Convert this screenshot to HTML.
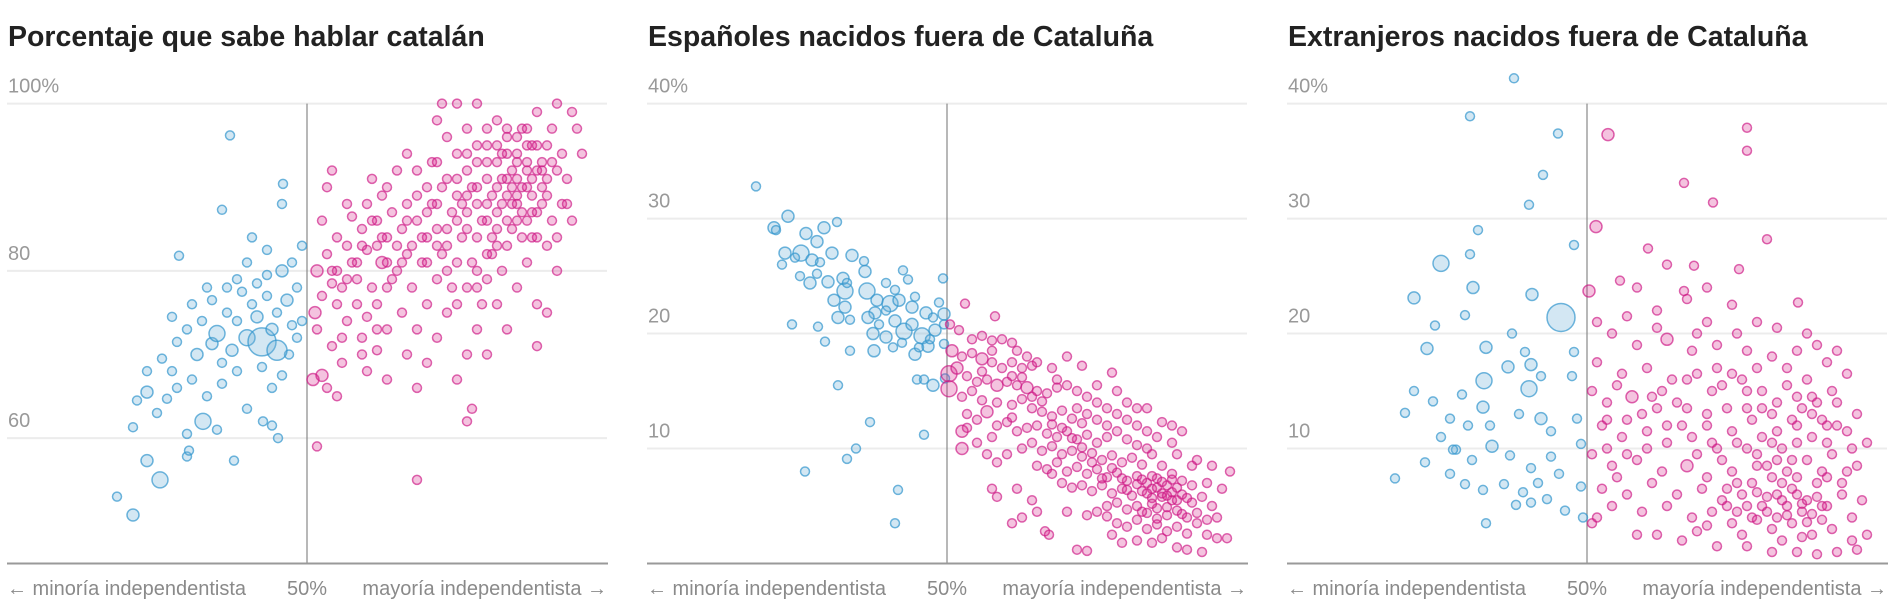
<!DOCTYPE html>
<html><head><meta charset="utf-8">
<style>
html,body{margin:0;padding:0;background:#fff;}
body{width:1902px;height:606px;overflow:hidden;font-family:"Liberation Sans",sans-serif;}
svg{display:block;}
.title{font-family:"Liberation Sans",sans-serif;font-weight:bold;font-size:28.5px;fill:#222;}
.tick{font-family:"Liberation Sans",sans-serif;font-size:20px;fill:#999;}
.axl{font-family:"Liberation Sans",sans-serif;font-size:20px;fill:#8a8a8a;}
</style></head>
<body>
<svg id="chart" width="1902" height="606" viewBox="0 0 1902 606" xmlns="http://www.w3.org/2000/svg"></svg>
<script>
// Data: [vote % independentist, value %, population size class]
const cat_ticks = ["100%","80","60"];
const cat_tickValues = [100,80,60];
const cat_points = [
[31,53],[32.6,50.8,2],[35.3,55,3],[34,57.3,2],[38,57.8],[38.2,58.5],[42.7,57.3],[47.1,60],[32.6,61.3],[39.6,62,3],[45.6,62],[44,63.5],[35,63],[33,64.5],[34,65.5,2],[36,64.7],[37,66],[36.5,68],[38.5,67],[40,65],[41.5,66.5],[34,68],[35.5,69.5],[37,71.5],[39,70,2],[40.5,71.3,2],[41,72.5,3],[42.5,70.5,2],[43,74],[44,72,3],[45.5,71.5,5],[46.5,73,2],[47,75],[44.5,76],[43.5,77.5],[42,78],[40.5,76.5],[39.5,74],[38,73],[36.5,74.5],[45,78.5],[46,79.5],[47.5,80,2],[48.5,81],[49,78],[48,76.5,2],[49.5,74],[49,72],[48.2,70],[47.5,67.5],[45.5,68.5],[43,68],[41.5,69],[38,60.5],[41,61],[46.5,61.5],[46.5,66],[44,81],[46,82.5],[37.2,81.8],[41.5,87.3],[47.6,90.4],[47.5,88],[42.3,96.2],[49.5,83],[44.5,84],[43,79],[40,78],[38.5,76],[47,70.5,4],[45,74.5,2],[42,75],[48.5,73.5],[46,77],
[51,59],[50.6,67,2],[51.5,67.5,2],[52,66],[53,65],[53.5,69],[52.5,71],[51,73],[50.8,75,2],[51.5,77],[52.5,78.5],[51,80,2],[52,82],[53,80],[54,83],[55,79],[56,82.5],[55.5,85],[54.5,86.5],[53,84],[51.5,86],[52,90],[52.5,92],[54,88],[56,88],[57,86],[58,84],[57.5,81,2],[56.5,78],[55,76],[54,74],[53.5,72],[55.5,72],[56,74.5],[57,76],[58,78],[59,80],[60,82],[59.5,85],[58.5,87],[60,88],[61,86],[62,84],[61.5,81],[60.5,78],[59.5,75],[58,73],[57,70.5],[56,68],[58,67],[60,70],[61,73],[62,76],[63,79],[63.5,82],[64,85],[63,88],[62,90],[61,92],[60,94],[62.5,93],[64,91],[65,89],[66,87],[65.5,84],[65,81],[64.5,78],[64,75],[63,72],[62,69],[61,66],[66,62],[66.5,63.5],[61,55],[65,67],[66,70],[67,73],[67.5,76],[68,79],[68.5,82],[69,85],[68,88],[67,90],[66,92],[65,94],[64,96],[63,98],[63.5,100],[65,100],[67,100],[66,97],[68,95],[69,93],[70,91],[70.5,88],[71,86],[70,83],[69.5,80],[71,78],[72,81],[72.5,84],[73,87],[72,90],[71,93],[70,96],[69,98],[71.5,97],[72.5,95],[73.5,92],[74,89],[74.5,86],[74,83],[75,80],[73,76],[75.5,88],[76,91],[75.5,94],[74.5,97],[73,99],[75,100],[76.5,99],[77,97],[77.5,94],[76.5,86],[74,75],[73,71],[70,73],[69,76],[68,70],[58,90],[59,92],[56.5,91],[57.5,89],[67,84],[66.5,81],[67,78],[69,87],[70,89],[71,91],[72,93],[73,95],[68,91],[67,93],[66,89],[65,86],[64,83],[63,85],[62,87],[61,89],[71.5,84],[72.5,87],[73.5,90],[74.5,93],[70,86],[69,83],[68,86],[67,88],[71,89],[72,92],[70,94],[71,96],[69,90],[68,93],[73,84],[75,84],[76,88],[74,95],[72,97],[66,85],[65,91],[63,93],[60,86],[59,83],[58,81],[57,83],[55,81],[54,79],[53,76],[55.5,70],[57,73],[70.5,92],[71.5,90],[72.5,89],[69.5,91],[70.5,85],[73.5,88],[68.5,89],[69.5,94],[72,86],[71,88],
[67.5,86],[68.5,84],[69.5,88],[70.5,90],[71.5,87],[72.5,91],[73.5,93],[66.5,90],[65.5,88],[64.5,87],[63.5,90],[62.5,88],[61.5,84],[60.5,83],[59.5,81],[58.5,79],[57.5,84],[56.5,86],[55.5,83],[54.5,81],[53.5,78],[52.5,80],[69,95],[70,97],[68,97],[67,95],[66,94],[71,94],[72,95],[73,92],[74,91],[75,92],[68,82],[67,80],[66,78],[65,76],[64,80],[63,83],[62,81]
];
const esp_ticks = ["40%","30","20","10"];
const esp_tickValues = [40,30,20,10];
const esp_points = [
[30.9,32.8],[34.1,30.2,2],[32.7,29.2,2],[32.9,29],[35.9,28.7,2],[37.7,29.2,2],[39,29.7],[37,28,2],[33.8,27,2],[35.4,27,3],[33.5,26],[34.8,26.6],[36.5,26.4,2],[37.3,26.2],[38.5,27,2],[40.5,26.8,2],[41.7,26.3],[41.8,25.4,2],[35.3,25],[36.3,24.4,2],[37,25.2],[38.1,24.5,2],[39.6,24.8,2],[39.8,23.7,3],[42,23.7,3],[40,24.4],[38.7,22.9,2],[39.8,22.3,2],[39.1,21.4,2],[40.3,21.2],[34.5,20.8],[37.1,20.6],[37.8,19.3],[40.3,18.5],[39.1,15.5],[42.3,12.3],[40.9,10],[40,9.1],[35.8,8],[45.1,6.4],[44.8,3.5],[47.7,11.2],[45.6,25.5],[46.1,24.7],[43.9,24.4],[44.8,23.8],[43,22.9,2],[44.3,22.6,3],[45.2,22.9,2],[46.8,23.2],[46.5,22.3,2],[42.8,21.8,2],[43.9,22],[47.9,21.8,2],[49.2,22.7],[49.6,24.8],[48.6,21.4],[42.6,20,2],[43.9,19.7,2],[45.7,20.2,3],[46.5,20.8,2],[47.5,19.8,3],[48.8,20.3,2],[49.7,20.8],[42.7,18.5,2],[44.6,18.8],[46.8,18.2,2],[48.1,18.9,2],[49.7,19.1],[47,16],[47.7,16],[48.6,15.5,2],[49.8,16.1],[49.7,21.7,2],[44.8,21.1,2],[42.1,21.4,2],[43.2,20.8],[47.2,18.8],[48.3,19.5],[45.5,19.2],
[51.8,22.6],[54.8,21.5],[50.3,20.8],[51.2,20.3],[52.5,19.5],[53.5,19.8],[54.5,19.4],[55.5,19.5],[56.5,19.2],[50.5,18.5,2],[51.5,18],[52.5,18.3],[53.5,17.8,2],[54.5,17.5],[55.5,17],[56.5,17.5],[57.5,17],[58.5,17.2],[50.2,16.5,3],[51,17,2],[52,16.3],[53,15.8],[54,16],[55,15.5,2],[56,15.8],[57,15.5],[58,15.3,2],[59,15],[60,14.8],[61,15.3],[50.2,15.2,3],[51.5,14.5],[52.5,15],[53.5,14.2],[55,14],[56.5,13.8],[57.5,14.3],[58.5,13.5],[59.5,13.2],[60.5,12.8],[61.5,13.3],[62.5,12.6],[63.5,12.2],[52,13],[53,12.5],[54,13.2,2],[55,12],[56,12.3],[57,11.5],[58,11.8],[59,12],[60,11.3],[61,11],[62,11.5],[63,10.8],[64,11.2],[65,10.5],[66,11],[51.5,11.5,2],[54.5,11],[57.5,10],[58.5,10.5],[59.5,9.8],[60.5,10.2],[61.5,9.5],[62.5,9.8],[63.5,9.3],[64.5,9.6],[65.5,9],[66.5,9.4],[67.5,8.8],[68.5,9.2],[69.5,8.6],[59,8.5],[60,8.2],[61,8.8],[62,8],[63,8.4],[64,7.8],[65,8.2],[66,7.5],[67,7.9],[68,7.2],[69,7.6],[70,7],[71,7.4],[72,6.8],[63.5,6.8],[64.5,6.3],[65.5,6.8],[66.5,6.1],[67.5,6.5],[68.5,5.9],[69.5,6.3],[70.5,5.7],[71.5,6.1],[72.5,5.5],[73.5,6],[74.5,5.3],[66,5],[67,5.3],[68,4.7],[69,5],[70,4.4],[71,4.8],[72,4.2],[73,4.6],[74,4],[75,4.4],[76,3.8],[67,3.5],[68,3.2],[69,3.8],[70,3],[71,3.4],[72,2.8],[73,3.2],[74,2.6],[75,3.5],[76,2.5],[77,2.2],[78,2.2],[74,1.2],[75.5,1],[73,1.4],[63,1.2],[64,1.1],[57,6.5],[58.5,5.5],[55,5.8],[54.5,6.5],[57.5,4],[59,4.5],[59.8,2.8],[60.2,2.5],[56.5,3.5],[66.5,2.5],[67.5,1.8],[69,2],[70.5,1.8],[71.5,2.2],[64,4.2],[65,4.5],[66,4.1],[62,4.5],[60.5,7.8],[61.5,7],[62.5,6.6],[76,7],[77.5,6.5],[78.3,8],[76.5,8.5],[75,9],[74.5,8.5],[73,9.5],[72.5,10.5],[71,11],[70,11.5],[69,12],[68,12.5],[67,13],[66,13.5],[65,14],[64,14.5],[63,15],[62,15.5],[61,16],[60.5,17],[59,17.5],[58,18],[57,18.5],[65,15.5],[66.5,16.6],[62,18],[63.5,17.2],[67,15],[68,14],[69,13.5],[70,13.5],[71.5,12.3],[72.5,12],[73.5,11.5],[52,11.8],[51.5,10,2],[54,9.5],[55,8.8],[56,9.5],[53,10.5],[56.5,12.7],[70.5,9.5],[71.5,8.5],[72.5,7.8],[73.5,7.2],[74.5,6.8],[75.5,5.8],[76.5,5],[77,4],[66,12],[67,11.5],[68,10.8],[69,10.3],[70,10],[65,12.5],[64,13],[63,13.5],[70.5,5.2],[71.5,5.8],[72,4.9],[73,5.5],[69.5,4.5],[70.5,6.5],[72.5,6.2],[71,3.9],[73.5,4.3],
[68,6.4],[69,6.9],[70,6.1],[71,6.6],[72,5.9],[73,6.6],[74,5.7],[69.5,7.3],[70.5,7.6],[71.5,7.1],[72.5,7.3],[67.5,7.4],[66.5,8.3],[65.5,7.4],[64.5,8.8],[63.5,10.1],[62.5,10.9],[61.5,11.8],[60.5,12.1],[59.5,14.1],[58.5,14.5],[57.5,16.2],[56.5,16.3],[54.5,18.5],[53.5,16.7]
];
const ext_ticks = ["40%","30","20","10"];
const ext_tickValues = [40,30,20,10];
const ext_points = [
[42.7,42.2],[38.3,38.9],[47.1,37.4],[45.6,33.8],[44.2,31.2],[39.1,29],[48.7,27.7],[35.4,26.1,3],[38.3,26.9],[38.6,24,2],[32.7,23.1,2],[34.8,20.7],[47.4,21.4,5],[44.5,23.4,2],[43.8,18.4],[42.5,20],[34,18.7,2],[37.8,21.6],[39.9,18.8,2],[42.1,17.1,2],[44.4,17.3,2],[45.4,16.3],[44.2,15.2,3],[48.7,18.4],[48.5,16.3],[32.7,15],[37.5,14.7],[39.7,15.9,3],[39.6,13.6,2],[36.3,12.6],[38.1,12],[40.3,12],[43.2,13],[45.4,12.6,2],[46.4,11.5],[49,12.6],[49.4,10.4],[35.4,11],[36.9,9.9],[38.5,9],[40.5,10.2,2],[42.3,9.4],[44.4,8.3],[46.4,9.3],[30.8,7.4],[33.8,8.8],[36.3,7.8],[37.8,6.9],[39.6,6.4],[41.7,6.9],[43.6,6.2],[45.1,7],[47.2,7.8],[49.4,6.7],[42.9,5.1],[44.4,5.3],[46,5.6],[47.8,4.6],[39.9,3.5],[49.6,4],[36.6,9.9],[31.8,13.1],[34.6,14.1],
[52.1,37.3,2],[66,37.9],[66,35.9],[59.7,33.1],[62.6,31.4],[50.9,29.3,2],[68,28.2],[56.1,27.4],[60.7,25.9],[53.3,24.6],[65.2,25.6],[71.1,22.7],[59.7,23.7],[50.2,23.7,2],[54,21.5],[57,22],[62,21],[64.5,22.5],[67,21],[69,20.5],[72,20],[52.5,20],[55,19],[58,19.5,2],[60.5,18.5],[63,19],[66,18.5],[68.5,18],[71,18.5],[74,17.5],[76,16.5],[51,17.5],[53.5,16.5],[56,17],[58.5,16],[61,16.5],[63.5,15.5],[65.5,16],[67.5,15],[70,15.5],[72.5,14.5],[75,14],[77,13],[50.5,15],[52,14],[54.5,14.5,2],[57,13.5],[59,14],[62,13],[64,13.5],[66.5,12.5],[68.5,13],[71,12],[73.5,12.5],[76,11.5],[78,10.5],[51.5,12],[53.5,11],[56,11.5],[58,10.5],[60.5,11],[63,10],[65,10.5],[67,9.5],[69.5,10],[72,9],[74.5,9.5],[77,8.5],[50.5,9.5],[52.5,8.5],[55,9],[57.5,8],[60,8.5,2],[62,7.5],[64.5,8],[66.5,7],[68.5,7.5],[70.5,6.5],[73,7],[75.5,6],[77.5,5.5],[51.5,6.5],[54,6],[56.5,7],[59,6],[61.5,6.5],[63.5,5.5],[65.5,6],[67.5,5],[69.5,5.5],[71.5,4.5],[74,5],[76.5,4],[52.5,5],[55.5,4.5],[58,5],[60.5,4],[62.5,4.5],[64.5,3.5],[66.5,4],[68.5,3],[70.5,3.5],[72.5,2.5],[74.5,3],[76.5,2],[78,2.5],[57,2.5],[59.5,2],[63,1.5],[66,1.5],[68.5,1],[71,1],[73,0.8],[75,1],[77,1.2],[65.5,2.5],[69.5,2],[71.5,2.3],[73.5,3.8],[70,8],[71,10.5],[72.5,11],[69,11.5],[67.5,11],[66,13.5],[64.5,11.5],[62,12],[63.5,9],[61,9.5],[59.5,12],[57.5,15],[55.5,13],[53,15.5],[51,21],[55,24],[58,26],[62,24],[57,20.5],[61,20],[70,17],[72,16],[73,19],[75,18.5],[67,17],[69,14],[71.5,13.5],[73,14],[74.5,15],[70.5,12.5],[68,8.5],[69,6],[71,7.5],[72,5.5],[73.5,8],[74,10.5],[75,12],[76,8],[76.5,10],[65,7],[67,8.5],[66,10],[64,6.5],[62.5,10.5],[60,13.5],[56,10],[54,12.5],[52,10],[53,7.5],[55,2.5],[51,4],[50.5,3.5],[61,2.8],[62,3.3],[60,23],[65,20],[63,17],[70,4.2],[72,3.6],[71,6],[73,5.8],[74,7.5],[69,9],[68,4.5],[67,6.2],
[70,5],[71.5,5.2],[72.5,4.3],[73.5,5],[69,4],[68,5.8],[67,3.8],[66,5],[65,4.5],[64,5],[70.5,9],[69.5,7],[68.5,10.5],[67.5,13.5],[66,15],[64.5,16.5],[62.5,15],[60,16],[58,12],[56.5,14.5],[54,9.5],[52,12.5],[75.5,7],[74,12],[72.5,13],[71,14.5]
];

const NS = "http://www.w3.org/2000/svg";
const svg = document.getElementById('chart');
const TOP = 103.6, BASE = 563.5, W = 600;
const radii = [0, 4.5, 6, 8, 10, 14];

const panels = [
  {name:'catalan', left:7, title:'Porcentaje que sabe hablar catalán', points:cat_points, ticks:cat_ticks, tickValues:cat_tickValues, min:45, max:100},
  {name:'espanoles', left:647, title:'Españoles nacidos fuera de Cataluña', points:esp_points, ticks:esp_ticks, tickValues:esp_tickValues, min:0, max:40},
  {name:'extranjeros', left:1287, title:'Extranjeros nacidos fuera de Cataluña', points:ext_points, ticks:ext_ticks, tickValues:ext_tickValues, min:0, max:40}
];

function mk(tag, attrs, parent){
  const e = document.createElementNS(NS, tag);
  for (const k in attrs) e.setAttribute(k, attrs[k]);
  (parent||svg).appendChild(e);
  return e;
}

panels.forEach(p => {
  const g = mk('g', {});
  
  
  const xs = v => p.left + (v - 20) / 60 * W;
  const ysc = v => BASE - (v - p.min) * (BASE - TOP) / (p.max - p.min);

  const t = mk('text', {x:p.left + 1, y:46, class:'title'}, g);
  t.textContent = p.title;
  
  

  p.tickValues.forEach((tv, i) => {
    const y = ysc(tv);
    const gl = mk('line', {x1:p.left, x2:p.left + W, y1:y, y2:y, stroke:'#ececec', 'stroke-width':2}, g);
    
    
    const tl = mk('text', {x:p.left + 1, y:y - 11, class:'tick'}, g);
    tl.textContent = p.ticks[i];
    
    
  });

  const cx = xs(50);
  const vl = mk('line', {x1:cx, x2:cx, y1:TOP, y2:BASE, stroke:'#888', 'stroke-width':1.2}, g);
  
  

  const dots = mk('g', {}, g);
  
  
  p.points.forEach(pt => {
    const blue = pt[0] < 50;
    const r = radii[pt[2] || 1];
    const c = mk('circle', {
      cx: xs(pt[0]), cy: ysc(pt[1]), r: r,
      fill: blue ? 'rgba(110,175,215,0.3)' : 'rgba(214,40,140,0.28)',
      stroke: blue ? 'rgba(50,150,205,0.7)' : 'rgba(205,20,130,0.65)',
      'stroke-width': 1.5
    }, dots);
    
    
  });

  const bl = mk('line', {x1:p.left, x2:p.left + W + 1, y1:BASE, y2:BASE, stroke:'#999', 'stroke-width':2}, g);
  
  

  const a1 = mk('text', {x:p.left, y:595, class:'axl'}, g);
  a1.textContent = '← minoría independentista';
  
  
  const a2 = mk('text', {x:cx, y:595, class:'axl', 'text-anchor':'middle'}, g);
  a2.textContent = '50%';
  
  
  const a3 = mk('text', {x:p.left + W, y:595, class:'axl', 'text-anchor':'end'}, g);
  a3.textContent = 'mayoría independentista →';
  
  
});
</script>
</body></html>
